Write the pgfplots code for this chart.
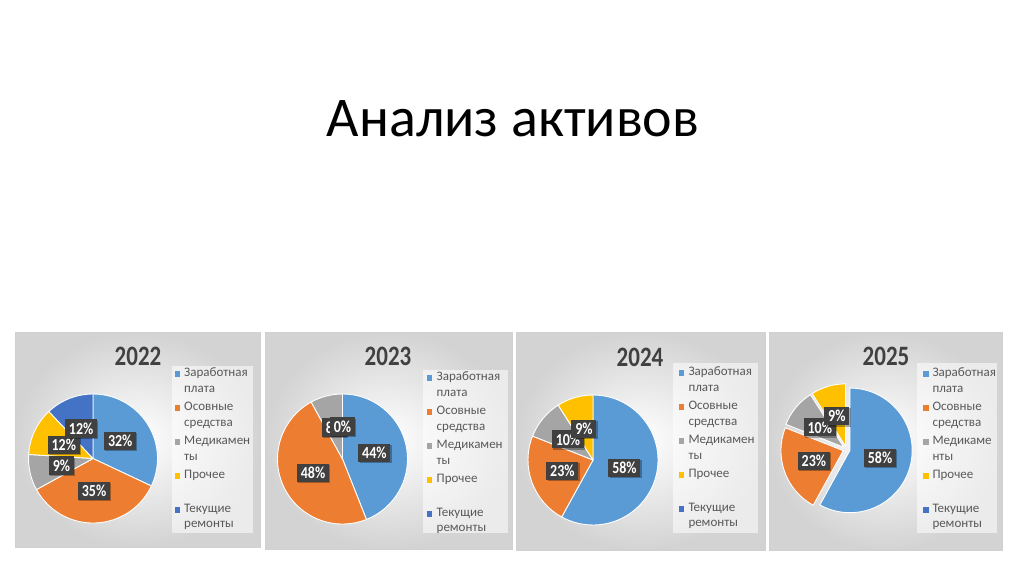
\documentclass[border=0pt]{standalone}
\usepackage{fontspec}
\setmainfont{Carlito}
\usepackage{pgfplots}
\pgfplotsset{compat=1.18}
\usepackage{pgfplotstable}
\usetikzlibrary{shadows}

\definecolor{c0}{HTML}{5B9BD5}
\definecolor{c1}{HTML}{ED7D31}
\definecolor{c2}{HTML}{A5A5A5}
\definecolor{c3}{HTML}{FFC000}
\definecolor{c4}{HTML}{4472C4}
\definecolor{lblbg}{HTML}{404040}
\definecolor{legtext}{HTML}{595959}
\definecolor{ttl}{HTML}{404040}
\definecolor{panelout}{HTML}{D3D3D3}
\definecolor{panelborder}{HTML}{D0D0D0}

% shares in percent, in legend order
\pgfplotstableread{
share
32
35
9
12
12
}\dataA
\pgfplotstableread{
share
44
48
8
0
}\dataB
\pgfplotstableread{
share
58
23
10
9
}\dataC
\pgfplotstableread{
share
58
23
10
9
}\dataD

\tikzset{
  lbl/.style={fill=lblbg, text=white, font=\bfseries\fontsize{14}{16}\selectfont,
    inner xsep=3.8pt, inner ysep=3.2pt,
    drop shadow={shadow xshift=1.2pt, shadow yshift=-1.2pt, fill=black, opacity=0.3}},
  leg/.style={anchor=mid west, inner sep=0pt, text=legtext, font=\fontsize{13}{15}\selectfont},
  yr/.style={font=\bfseries\fontsize{23}{26}\selectfont, text=ttl},
}

% #1 table, #2 radius in pt, #3 explosion (fraction of radius)
\newcommand\drawpie[3]{%
  \pgfplotstablegetrowsof{#1}%
  \pgfmathtruncatemacro\nlast{\pgfplotsretval-1}%
  \def\cum{0}%
  \pgfplotsforeachungrouped \i in {0,...,\nlast}{%
    \pgfplotstablegetelem{\i}{share}\of{#1}%
    \let\v\pgfplotsretval
    \pgfmathsetmacro\aa{90-3.6*\cum}%
    \pgfmathsetmacro\ab{90-3.6*(\cum+\v)}%
    \pgfmathsetmacro\am{(\aa+\ab)/2}%
    \pgfmathsetmacro\ox{#3*cos(\am)}%
    \pgfmathsetmacro\oy{#3*sin(\am)}%
    \pgfmathsetmacro\px{\ox+cos(\aa)}%
    \pgfmathsetmacro\py{\oy+sin(\aa)}%
    \edef\tmp{\noexpand\addplot[fill=c\i, draw=white, line width=0.9pt, line join=round]
      coordinates {(\ox,\oy) (\px,\py)} arc[start angle=\aa, end angle=\ab, radius=#2pt] -- cycle;}%
    \tmp
    \pgfmathsetmacro\cum{\cum+\v}%
  }%
  \def\cum{0}%
  \pgfplotsforeachungrouped \i in {0,...,\nlast}{%
    \pgfplotstablegetelem{\i}{share}\of{#1}%
    \let\v\pgfplotsretval
    \pgfmathsetmacro\am{90-3.6*(\cum+\v/2)}%
    \pgfmathsetmacro\lx{(#3+0.5)*cos(\am)}%
    \pgfmathsetmacro\ly{(#3+0.5)*sin(\am)}%
    \edef\tmp{\noexpand\node[lbl] at (axis cs:\lx,\ly) {\noexpand\scalebox{1}[1.2]{\v\noexpand\%}};}%
    \tmp
    \pgfmathsetmacro\cum{\cum+\v}%
  }%
}

% #1 marker x, #2 text x, #3 first line y, #4 #5 Medikamenty split
\newcommand\pielegend[5]{%
  \foreach \col/\dy in {c0/0,c1/34,c2/68,c3/102,c4/136}{%
    \fill[\col] ({#1-2.7},{#3-\dy-2.7}) rectangle ++(5.4,5.4);}
  \node[leg] at (#2,#3) {Заработная};
  \node[leg] at (#2,#3-16) {плата};
  \node[leg] at (#2,#3-34) {Осовные};
  \node[leg] at (#2,#3-50) {средства};
  \node[leg] at (#2,#3-68) {#4};
  \node[leg] at (#2,#3-84) {#5};
  \node[leg] at (#2,#3-102) {Прочее};
  \node[leg] at (#2,#3-136) {Текущие};
  \node[leg] at (#2,#3-151) {ремонты};
}

\newcommand\panel[4]{%
  \shade[inner color=white, outer color=panelout] (#1,#2) rectangle (#3,#4);
  \draw[panelborder, line width=0.6pt] (#1,#2) rectangle (#3,#4);
}

\begin{document}
\begin{tikzpicture}[x=1pt,y=1pt]
\fill[white] (0,0) rectangle (1024,574);

\node[anchor=base, font=\fontsize{56}{60}\selectfont, text=black] at (513,437) {Анализ активов};

% panels
\panel{15}{27}{260}{242}
\panel{265}{25}{512}{242}
\panel{516}{24}{765}{242}
\panel{769}{24}{1002}{242}

% legend boxes
\fill[white, opacity=0.55] (172,41) rectangle (253,208);
\fill[white, opacity=0.55] (423,41) rectangle (508,204);
\fill[white, opacity=0.55] (673,41) rectangle (758,211);
\fill[white, opacity=0.55] (917,41) rectangle (997,211);

% panel titles
\node[yr] at (138,218) {\scalebox{1}[1.22]{2022}};
\node[yr] at (388,218) {\scalebox{1}[1.22]{2023}};
\node[yr] at (640,217) {\scalebox{1}[1.22]{2024}};
\node[yr] at (886,218) {\scalebox{1}[1.22]{2025}};

% legends
\pielegend{177.5}{184}{200}{Медикамен}{ты}
\pielegend{429.5}{436.5}{196}{Медикамен}{ты}
\pielegend{681.7}{688.3}{201}{Медикамен}{ты}
\pielegend{925.8}{932.3}{200}{Медикаме}{нты}

% pies
\begin{axis}[at={(93pt,115.5pt)}, anchor=center, hide axis, x=64.5pt, y=64.5pt,
  xmin=-1.2, xmax=1.2, ymin=-1.2, ymax=1.2, clip=false]
\drawpie{\dataA}{64.5}{0}
\end{axis}
\begin{axis}[at={(342.5pt,115pt)}, anchor=center, hide axis, x=65pt, y=65pt,
  xmin=-1.2, xmax=1.2, ymin=-1.2, ymax=1.2, clip=false]
\drawpie{\dataB}{65}{0}
\end{axis}
\begin{axis}[at={(593pt,114pt)}, anchor=center, hide axis, x=65pt, y=65pt,
  xmin=-1.2, xmax=1.2, ymin=-1.2, ymax=1.2, clip=false]
\drawpie{\dataC}{65}{0}
\end{axis}
\begin{axis}[at={(846.5pt,124.5pt)}, anchor=center, hide axis, x=62.3pt, y=62.3pt,
  xmin=-1.2, xmax=1.2, ymin=-1.2, ymax=1.2, clip=false]
\drawpie{\dataD}{62.3}{0.056}
\end{axis}
\end{tikzpicture}
\end{document}
